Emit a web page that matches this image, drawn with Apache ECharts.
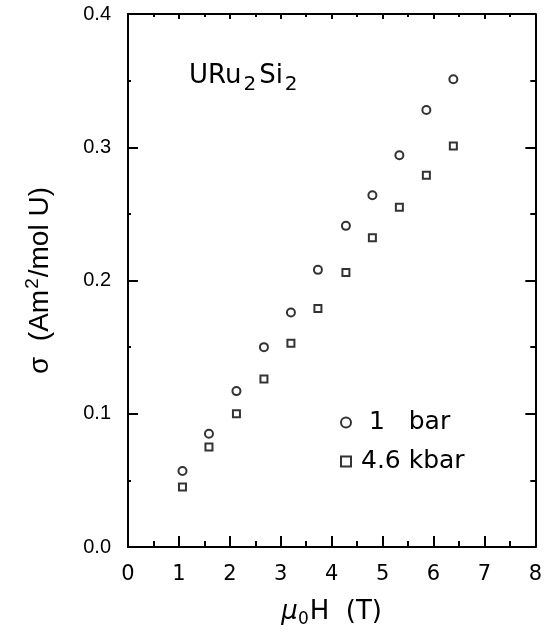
<!DOCTYPE html>
<html>
<head>
<meta charset="utf-8">
<script src="https://cdn.jsdelivr.net/npm/echarts@6/dist/echarts.min.js"></script>
<style>
  html, body { margin: 0; padding: 0; background: #fff; }
  #chart { width: 545px; height: 633px; }
</style>
</head>
<body>
<div id="chart"></div>
<script>
const fieldT = [1.07, 1.59, 2.13, 2.67, 3.20, 3.73, 4.28, 4.80, 5.33, 5.86, 6.39];
const sigma1bar = [0.057, 0.085, 0.117, 0.150, 0.176, 0.208, 0.241, 0.264, 0.294, 0.328, 0.351];
const sigma46kbar = [0.045, 0.075, 0.100, 0.126, 0.153, 0.179, 0.206, 0.232, 0.255, 0.279, 0.301];
const yTickLabels = ["0.0", "0.1", "0.2", "0.3", "0.4"];

const pairs = (xs, ys) => xs.map((x, i) => [x, ys[i]]);

const font = "DejaVu Sans";
const line = { color: "#000", width: 2 };

// one side of the closed frame; ticks point into the plot
const frameAxis = (position, tickLen, minorLen) => ({
    type: "value",
    position: position,
    axisLine: { show: true, onZero: false, lineStyle: line },
    axisTick: { inside: true, length: tickLen, lineStyle: line },
    minorTick: { show: true, splitNumber: 2, length: minorLen, lineStyle: line },
    splitLine: { show: false },
    axisLabel: { show: false }
});

const getOption = () => {
    const xTop = frameAxis("top", 5, 3);
    const xBottom = frameAxis("bottom", 11, 6);
    const yLeft = frameAxis("left", 10, 3);
    const yRight = frameAxis("right", 10, 5);
    [xTop, xBottom].forEach((a) => Object.assign(a, { min: 0, max: 8, interval: 1 }));
    [yLeft, yRight].forEach((a) => Object.assign(a, { min: 0, max: 0.4, interval: 0.1 }));

    Object.assign(xBottom, {
        name: "{i|μ}{s|0}H  (T)",
        nameLocation: "middle",
        nameGap: 50,
        nameTextStyle: {
            fontFamily: font,
            fontSize: 26,
            color: "#000",
            rich: {
                i: { fontFamily: font, fontSize: 26, fontStyle: "italic", color: "#000" },
                s: { fontFamily: font, fontSize: 17, color: "#000", padding: [14, 1, 0, 0] }
            }
        },
        axisLabel: { show: true, fontFamily: font, fontSize: 21, color: "#000", margin: 17 }
    });

    Object.assign(yLeft, {
        name: "σ  (Am{p|2}/mol U)",
        nameLocation: "middle",
        nameRotate: 90,
        nameGap: 70,
        nameTextStyle: {
            fontFamily: "Liberation Sans",
            fontSize: 28,
            color: "#000",
            rich: {
                p: { fontFamily: "Liberation Sans", fontSize: 19, color: "#000", padding: [0, 1, 16, 1] }
            }
        },
        axisLabel: {
            show: true,
            fontFamily: "Liberation Sans",
            fontSize: 20,
            color: "#000",
            margin: 17,
            formatter: (v) => yTickLabels[Math.round(v * 10)]
        }
    });

    return {
        animation: false,
        title: {
            text: "URu{s|2}Si{s|2}",
            left: 189,
            top: 57,
            padding: 0,
            textStyle: {
                fontFamily: font,
                fontSize: 26,
                fontWeight: "normal",
                color: "#000",
                rich: {
                    s: { fontFamily: font, fontSize: 20, color: "#000", padding: [18, 3, 0, 2] }
                }
            }
        },
        legend: {
            orient: "vertical",
            left: 340,
            top: 410,
            padding: 0,
            itemGap: 14,
            itemWidth: 10,
            itemHeight: 10,
            formatter: (name) => (name === "1  bar" ? " 1   bar" : name),
            textStyle: { fontFamily: font, fontSize: 25, color: "#000", padding: [0, 0, 0, 5] },
            data: [
                { name: "1  bar", icon: "emptyCircle" },
                { name: "4.6 kbar", icon: "rect" }
            ]
        },
        grid: { left: 128, right: 6, top: 14, bottom: 80 },
        xAxis: [xBottom, xTop],
        yAxis: [yLeft, yRight],
        series: [
            {
                name: "1  bar",
                type: "scatter",
                symbol: "emptyCircle",
                symbolSize: 8,
                itemStyle: { color: "#000", borderColor: "#000", borderWidth: 2 },
                data: pairs(fieldT, sigma1bar)
            },
            {
                name: "4.6 kbar",
                type: "scatter",
                symbol: "rect",
                symbolSize: 7,
                itemStyle: { color: "#fff", borderColor: "#000", borderWidth: 2 },
                data: pairs(fieldT, sigma46kbar)
            }
        ]
    };
};

const chart = echarts.init(document.getElementById("chart"));
chart.setOption(getOption());
</script>
</body>
</html>
